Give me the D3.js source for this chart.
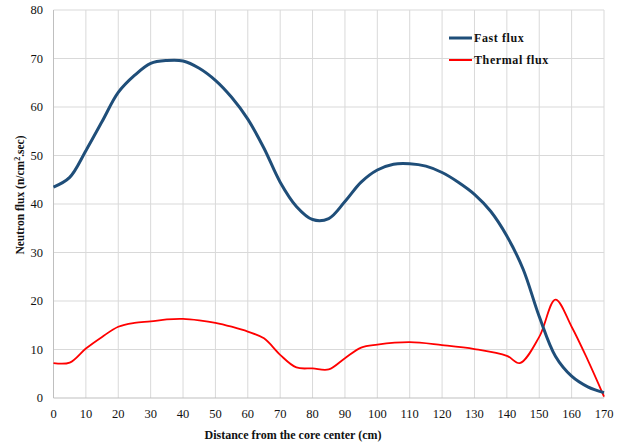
<!DOCTYPE html>
<html><head><meta charset="utf-8">
<script src="https://cdn.jsdelivr.net/npm/d3@7"></script>
<style>body{margin:0;background:#fff}svg{display:block}</style>
</head><body>
<script>
const distance = [0,5,10,15,20,25,30,35,40,45,50,55,60,65,70,75,80,85,90,95,100,105,110,115,120,125,130,135,140,145,150,155,160,165,170];
const fastFlux = [43.5,45.5,51,57,63,66.5,69,69.6,69.5,68,65.5,62,57.5,51.5,44.5,39.5,36.8,37,40.5,44.5,47,48.2,48.3,47.8,46.5,44.5,42,38.5,33.4,26.6,16.8,8.6,4.5,2.3,1.1];
const thermalX = [0,5,10,15,20,25,30,35,40,45,50,55,60,65,70,75,80,85,90,95,100,110,120,130,140,144,150,155,160,165,170];
const thermalFlux = [7.2,7.3,10.2,12.6,14.7,15.5,15.8,16.2,16.3,16,15.5,14.7,13.7,12.3,8.9,6.3,6.1,5.9,8.2,10.4,11,11.5,10.9,10.1,8.7,7.2,12.6,20.3,14.7,7.8,0.3];
const xTicks = d3.range(0,171,10);
const yTicks = d3.range(0,81,10);

const W=624,H=446;
const svg=d3.select("body").append("svg").attr("width",W).attr("height",H);
const x=d3.scaleLinear().domain([0,170]).range([53.5,604]);
const y=d3.scaleLinear().domain([0,80]).range([398,10]);

const g=svg.append("g");
g.selectAll(".vg").data(xTicks.slice(1)).join("line")
 .attr("x1",d=>x(d)).attr("x2",d=>x(d)).attr("y1",y(0)).attr("y2",y(80))
 .attr("stroke","#d9d9d9").attr("stroke-width",1);
g.selectAll(".hg").data(yTicks.slice(1)).join("line")
 .attr("x1",x(0)).attr("x2",x(170)).attr("y1",d=>y(d)).attr("y2",d=>y(d))
 .attr("stroke","#d9d9d9").attr("stroke-width",1);
g.append("line").attr("x1",x(0)).attr("x2",x(0)).attr("y1",y(0)).attr("y2",y(80)).attr("stroke","#bfbfbf");
g.append("line").attr("x1",x(0)).attr("x2",x(170)).attr("y1",y(0)).attr("y2",y(0)).attr("stroke","#bfbfbf");

const font="'Liberation Serif','Times New Roman',serif";
svg.selectAll(".xt").data(xTicks).join("text")
 .attr("x",d=>x(d)).attr("y",418).attr("text-anchor","middle")
 .attr("font-family",font).attr("font-size",12.5).attr("fill","#111").text(d=>d);
svg.selectAll(".yt").data(yTicks).join("text")
 .attr("x",43).attr("y",d=>y(d)+4).attr("text-anchor","end")
 .attr("font-family",font).attr("font-size",12.5).attr("fill","#111").text(d=>d);

svg.append("text").attr("x",293).attr("y",439).attr("text-anchor","middle")
 .attr("font-family",font).attr("font-size",12).attr("font-weight","bold").attr("fill","#111")
 .text("Distance from  the core center (cm)");
const yt=svg.append("text").attr("transform","translate(24,195) rotate(-90)").attr("text-anchor","middle")
 .attr("font-family",font).attr("font-size",11.5).attr("font-weight","bold").attr("fill","#111");
yt.append("tspan").text("Neutron flux (n/cm");
yt.append("tspan").attr("font-size",8).attr("dy",-4).text("2");
yt.append("tspan").attr("dy",4).text(".sec)");

const line=d3.line().curve(d3.curveCatmullRom.alpha(0.5));
svg.append("path").attr("d",line(thermalX.map((d,i)=>[x(d),y(thermalFlux[i])])))
 .attr("fill","none").attr("stroke","#ff0000").attr("stroke-width",1.8);
svg.append("path").attr("d",line(distance.map((d,i)=>[x(d),y(fastFlux[i])])))
 .attr("fill","none").attr("stroke","#1f4e79").attr("stroke-width",3);

const leg=[["Fast flux","#1f4e79",3,38],["Thermal flux","#ff0000",2,60]];
leg.forEach(([t,c,w,yy])=>{
 svg.append("line").attr("x1",449).attr("x2",472).attr("y1",yy).attr("y2",yy).attr("stroke",c).attr("stroke-width",w);
 svg.append("text").attr("x",474).attr("y",yy+4).attr("font-family",font).attr("font-size",12)
  .attr("font-weight","bold").attr("letter-spacing","0.6").attr("fill","#111").text(t);
});
</script>
</body></html>
